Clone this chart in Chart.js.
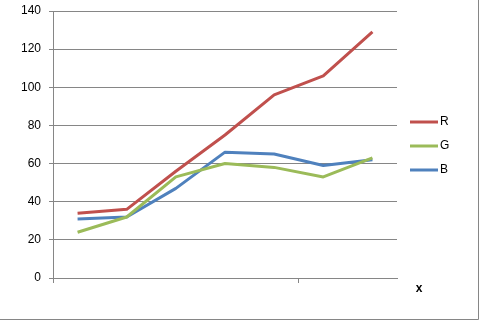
<!DOCTYPE html>
<html>
<head>
<meta charset="utf-8">
<script src="https://cdn.jsdelivr.net/npm/chart.js@4.4.0/dist/chart.umd.min.js"></script>
<style>
html,body{margin:0;padding:0;background:#fff;}
#wrap{width:481px;height:320px;position:relative;}
</style>
</head>
<body>
<div id="wrap"><canvas id="c" width="481" height="320"></canvas></div>
<script>
const categories = ["1","2","3","4","5","6","7"];
const seriesNames = ["R","G","B"];
const rValues = [34, 36, 56, 75, 96, 106, 129];
const gValues = [24, 32, 53, 60, 58, 53, 63];
const bValues = [31, 32, 47, 66, 65, 59, 62];
const seriesColors = ["#C0504D", "#9BBB59", "#4F81BD"];
const xTitle = "x";

const FONT = "'Liberation Sans', Arial, sans-serif";
const GRAY = "#868686";

const decor = {
  id: 'decor',
  afterDraw(chart) {
    const ctx = chart.ctx;
    ctx.save();
    ctx.strokeStyle = GRAY;
    ctx.lineWidth = 1;
    ctx.beginPath();
    ctx.moveTo(478.5, 0);
    ctx.lineTo(478.5, 319.5);
    ctx.lineTo(0, 319.5);
    ctx.stroke();
    ctx.font = "12px " + FONT;
    ctx.textBaseline = 'middle';
    ctx.textAlign = 'left';
    chart.data.datasets.forEach((ds, i) => {
      const y = 122 + i * 24;
      ctx.strokeStyle = ds.borderColor;
      ctx.lineWidth = 3;
      ctx.beginPath();
      ctx.moveTo(410, y);
      ctx.lineTo(438, y);
      ctx.stroke();
      ctx.fillStyle = '#000';
      ctx.fillText(ds.label, 440, y);
    });
    ctx.font = "bold 12px " + FONT;
    ctx.textAlign = 'center';
    ctx.fillText(xTitle, 419, 289);
    ctx.restore();
  }
};

new Chart(document.getElementById('c'), {
  type: 'line',
  data: {
    labels: categories,
    datasets: [
      {label: seriesNames[0], data: rValues, borderColor: seriesColors[0]},
      {label: seriesNames[1], data: gValues, borderColor: seriesColors[1]},
      {label: seriesNames[2], data: bValues, borderColor: seriesColors[2]}
    ].map(d => Object.assign(d, {borderWidth: 3, pointRadius: 0, tension: 0, fill: false, borderJoinStyle: 'round'}))
  },
  options: {
    responsive: false,
    animation: false,
    devicePixelRatio: 1,
    layout: {padding: {top: 11, right: 84, bottom: 0, left: 0}},
    plugins: {legend: {display: false}, tooltip: {enabled: false}},
    scales: {
      x: {
        offset: true,
        ticks: {display: false},
        grid: {
          offset: true,
          drawOnChartArea: false,
          drawTicks: true,
          tickLength: 5,
          color: (c) => (c.index % 5 === 0 ? GRAY : 'rgba(0,0,0,0)')
        },
        border: {display: true, color: GRAY, width: 1},
        afterFit(s) { s.height = 42; s.paddingLeft = 0; s.paddingRight = 0; }
      },
      y: {
        min: 0, max: 140,
        ticks: {stepSize: 20, color: '#000', font: {family: FONT, size: 12}, padding: 8},
        grid: {color: GRAY, tickLength: 4, drawTicks: true},
        border: {display: true, color: GRAY, width: 1},
        afterFit(s) { s.width = 53; s.paddingTop = 0; s.paddingBottom = 0; }
      }
    }
  },
  plugins: [decor]
});
</script>
</body>
</html>
